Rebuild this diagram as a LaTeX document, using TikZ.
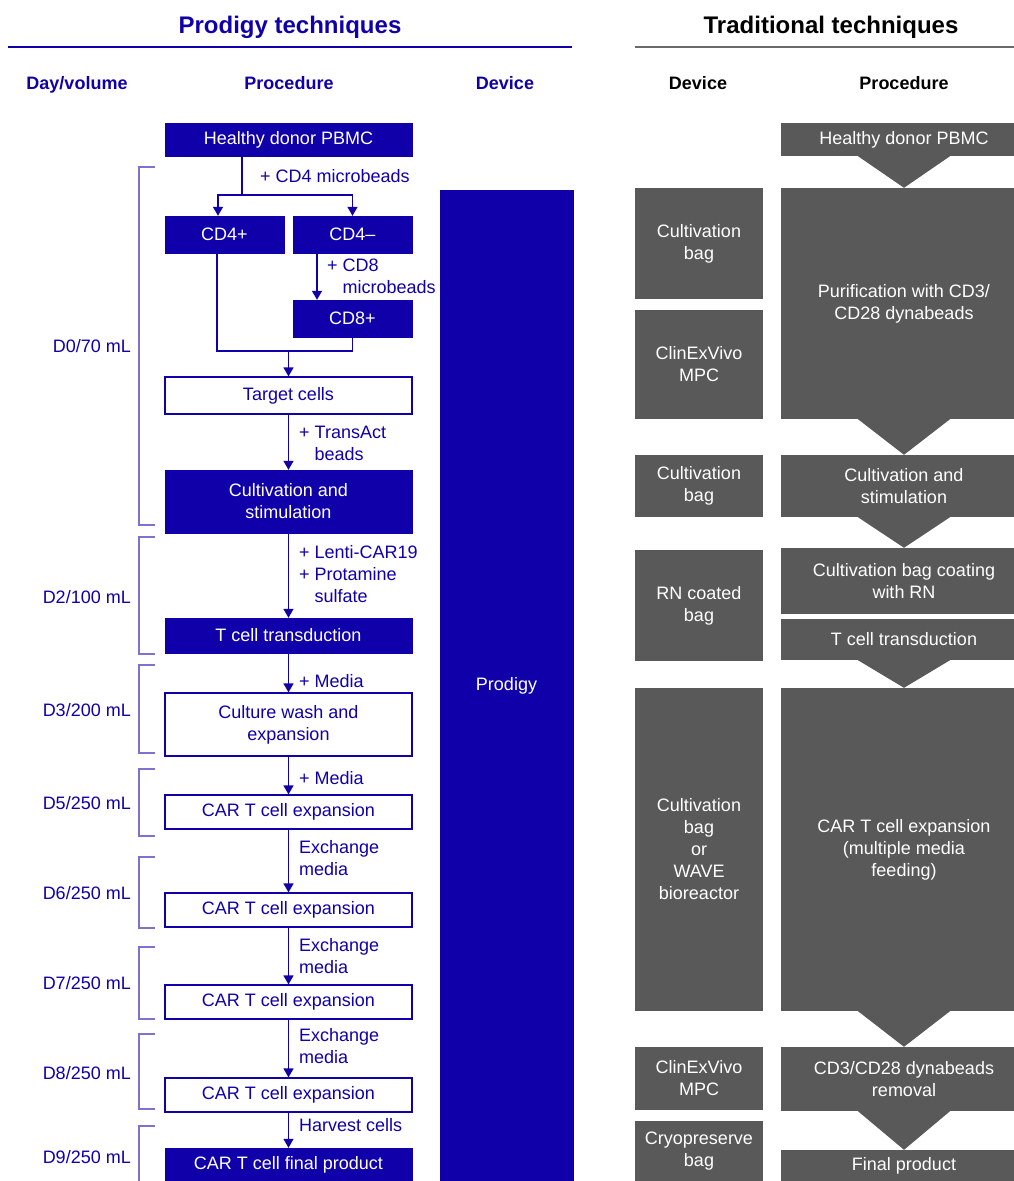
\documentclass[tikz,border=0pt]{standalone}
\usepackage{fontspec}
\setmainfont{Liberation Sans}
\usetikzlibrary{arrows.meta}
\definecolor{prodblue}{RGB}{16,0,170}
\definecolor{tradgrey}{RGB}{89,89,89}

\begin{document}
\begin{tikzpicture}[
  x=1pt, y=-1pt,
  every node/.style={font=\fontsize{18}{22}\selectfont, inner sep=0pt, align=center},
  pfill/.style={fill=prodblue, draw=prodblue, text=white, minimum width=247},
  pline/.style={fill=white, draw=prodblue, line width=1.2pt, text=prodblue, minimum width=247},
  tfill/.style={fill=tradgrey, text=white},
  note/.style={text=prodblue, anchor=west, align=left},
  colhead/.style={font=\fontsize{18}{22}\selectfont\bfseries, text height=13pt, text depth=4pt},
  sectitle/.style={font=\fontsize{24}{28}\selectfont\bfseries, text height=17pt, text depth=5pt},
  link/.style={draw=prodblue, line width=1.3pt},
  arr/.style={link, -{Triangle[width=10pt,length=9pt]}}
]
  \useasboundingbox (0,0) rectangle (1014,1181);
  \clip (0,0) rectangle (1014,1181);

  % Titles
  \node[sectitle, text=prodblue] (ptitle) at (290,27) {Prodigy techniques};
  \node[sectitle] (ttitle) at (831,27) {Traditional techniques};
  \draw[prodblue, line width=2pt] (8,47) -- (572,47);
  \draw[tradgrey!90, line width=2pt] (635,47) -- (1014,47);

  % Column heads
  \node[colhead, text=prodblue] (hday) at (77,85) {Day/volume};
  \node[colhead, text=prodblue] (hproc) at (289,85) {Procedure};
  \node[colhead, text=prodblue] (hdev) at (505,85) {Device};
  \node[colhead] (thdev) at (698,85) {Device};
  \node[colhead] (thproc) at (904,85) {Procedure};

  % Day/volume column
  \foreach \t/\b/\m/\d/\v in {167/525/346/0/70, 537/654/597/2/100, 665/753/710/3/200,
    769/836/803/5/250, 857/928/893/6/250, 947/1019/983/7/250, 1034/1109/1073/8/250,
    1126/1195/1157/9/250} {
    \draw[prodblue!55, line width=1.3pt] (155,\t) -- (139,\t) -- (139,\b) -- (155,\b);
    \node[anchor=east, text=prodblue] (day\d) at (131,\m) {D\d/\v~mL};
  }

  % Prodigy procedure column
  \node[pfill, minimum height=33] (pbmc) at (288.5,139.5) {Healthy donor PBMC};
  \node[pfill, minimum width=119, minimum height=37] (cdfour) at (224.5,234.5) {CD4+};
  \node[pfill, minimum width=119, minimum height=37] (cdfourneg) at (352.5,234.5) {CD4--};
  \node[pfill, minimum width=119, minimum height=37] (cdeight) at (352.5,318.5) {CD8+};
  \node[pline, minimum height=37] (target) at (288.5,395.5) {Target cells};
  \node[pfill, minimum height=63] (cultiv) at (288.5,501.5) {Cultivation and\\stimulation};
  \node[pfill, minimum height=35] (transd) at (288.5,635.5) {T cell transduction};
  \node[pline, minimum height=63] (wash) at (288.5,724.5) {Culture wash and\\expansion};
  \node[pline, minimum height=34] (expA) at (288.5,812) {CAR T cell expansion};
  \node[pline, minimum height=34] (expB) at (288.5,910) {CAR T cell expansion};
  \node[pline, minimum height=34] (expC) at (288.5,1002) {CAR T cell expansion};
  \node[pline, minimum height=34] (expD) at (288.5,1095) {CAR T cell expansion};
  \node[pfill, minimum height=34] (final) at (288.5,1165) {CAR T cell final product};

  % Prodigy device column
  \node[pfill, minimum width=133, minimum height=991] (prodigy) at (506.5,685.5) {Prodigy};

  % Arrows
  \coordinate (split) at (242,195);
  \coordinate (merge) at (288.5,351);
  \draw[link] (pbmc.south -| split) -- (split);
  \draw[arr] (split) -| ([xshift=-6.5]cdfour.north);
  \draw[arr] (split) -| (cdfourneg.north);
  \draw[arr] ([xshift=-35.5]cdfourneg.south) -- ([xshift=-35.5]cdeight.north);
  \draw[link] ([xshift=-7.5]cdfour.south) |- (merge) -| (cdeight.south);
  \draw[arr] (merge) -- (target.north);
  \foreach \a/\b in {target/cultiv, cultiv/transd, transd/wash, wash/expA,
    expA/expB, expB/expC, expC/expD, expD/final} {
    \draw[arr] (\a) -- (\b);
  }

  % Additions
  \node[note] (ncdfour) at (260,176) {+ CD4 microbeads};
  \node[note] (ncdeight) at (327,276) {+ CD8\\\hphantom{+~}microbeads};
  \node[note] (ntrans) at (299,443.5) {+ TransAct\\\hphantom{+~}beads};
  \node[note] (nlenti) at (299,574.5) {+ Lenti-CAR19\\+ Protamine\\\hphantom{+~}sulfate};
  \node[note] (nmediaA) at (299,681) {+ Media};
  \node[note] (nmediaB) at (299,778) {+ Media};
  \foreach \y/\i in {858.5/A, 956.5/B, 1046/C} {
    \node[note] (nexch\i) at (299,\y) {Exchange\\media};
  }
  \node[note] (nharvest) at (299,1125) {Harvest cells};

  % Traditional device column
  \node[tfill, minimum width=128, minimum height=111] (devA) at (699,243.5) {Cultivation\\bag};
  \node[tfill, minimum width=128, minimum height=109] (devB) at (699,364.5) {ClinExVivo\\MPC};
  \node[tfill, minimum width=128, minimum height=62] (devC) at (699,486) {Cultivation\\bag};
  \node[tfill, minimum width=128, minimum height=111] (devD) at (699,605.5) {RN coated\\bag};
  \node[tfill, minimum width=128, minimum height=323] (devE) at (699,849.5) {Cultivation\\bag\\or\\WAVE\\bioreactor};
  \node[tfill, minimum width=128, minimum height=63] (devF) at (699,1078.5) {ClinExVivo\\MPC};
  \node[tfill, minimum width=128, minimum height=60] (devG) at (699,1151) {Cryopreserve\\bag};

  % Traditional procedure column
  \node[tfill, minimum width=246, minimum height=33] (tpbmc) at (904,139.5) {Healthy donor PBMC};
  \node[tfill, minimum width=246, minimum height=231] (tpurif) at (904,303.5) {Purification with CD3/\\CD28 dynabeads};
  \node[tfill, minimum width=246, minimum height=62] (tcultiv) at (904,486) {Cultivation and\\stimulation};
  \node[tfill, minimum width=246, minimum height=66] (tcoat) at (904,581) {Cultivation bag coating\\with RN};
  \node[tfill, minimum width=246, minimum height=41] (ttransd) at (904,639.5) {T cell transduction};
  \node[tfill, minimum width=246, minimum height=323] (texp) at (904,849.5) {CAR T cell expansion\\(multiple media\\feeding)};
  \node[tfill, minimum width=246, minimum height=64] (tremov) at (904,1079) {CD3/CD28 dynabeads\\removal};
  \node[tfill, minimum width=246, minimum height=31] (tfinal) at (904,1165.5) {Final product};

  % Chevrons
  \foreach \a/\b in {tpbmc/tpurif, tpurif/tcultiv, tcultiv/tcoat, ttransd/texp,
    texp/tremov, tremov/tfinal} {
    \fill[tradgrey] ([xshift=-46]\a.south) -- ([xshift=46]\a.south) -- (\a.south |- \b.north) -- cycle;
  }
\end{tikzpicture}
\end{document}
